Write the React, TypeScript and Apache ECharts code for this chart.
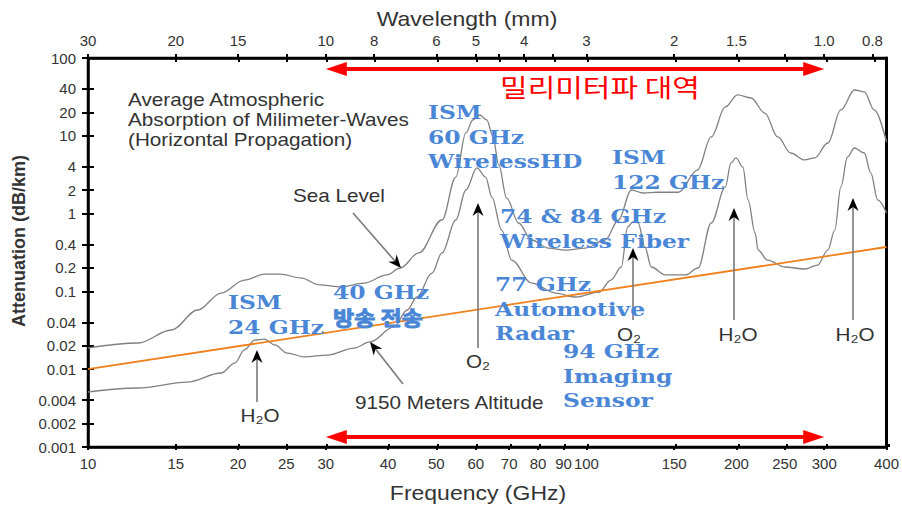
import React, { useEffect, useRef } from 'react';
import * as echarts from 'echarts';

// ---------- axis ticks ----------
const freqTicks = [10, 15, 20, 25, 30, 40, 50, 60, 70, 80, 90, 100, 150, 200, 250, 300, 400];
const wavelengthValues = [30, 20, 15, 10, 8, 6, 5, 4, 3, 2, 1.5, 1.0, 0.8];
const wavelengthLabels = ['30', '20', '15', '10', '8', '6', '5', '4', '3', '2', '1.5', '1.0', '0.8'];
const wavelengthMinorTicks = [12, 4.5, 3.5, 1.2];
const attenuationTicks = [100, 40, 20, 10, 4, 2, 1, 0.4, 0.2, 0.1, 0.04, 0.02, 0.01, 0.004, 0.002, 0.001];
const attenuationLabels = ['100', '40', '20', '10', '4', '2', '1', '0.4', '0.2', '0.1', '0.04', '0.02', '0.01', '0.004', '0.002', '0.001'];

// ---------- series: sea level ----------
const seaLevelFreq = [10, 12.6, 14.7, 16.6, 18.5, 20.6, 22.6, 24.3, 26.7, 29.2, 32.1, 35.8, 39.8, 42.3, 46.1, 51.3, 54.7, 57.3, 59.2, 61.1, 63.1, 64.9, 66.7, 69.2, 73.1, 77.6, 83.9, 90.8, 99.5, 109, 116, 123, 130, 139, 153, 167, 178, 190, 201, 214, 228, 242, 257, 274, 287, 305, 324, 345, 361, 378, 400];
const seaLevelAtt = [0.0187, 0.0217, 0.0319, 0.0577, 0.0953, 0.14, 0.167, 0.167, 0.149, 0.121, 0.114, 0.128, 0.163, 0.2, 0.312, 0.828, 2.95, 10.9, 16.0, 18.5, 16.0, 9.94, 4.22, 1.58, 0.757, 0.458, 0.361, 0.34, 0.361, 0.458, 0.828, 2.01, 1.84, 1.88, 1.88, 3.63, 9.66, 23.5, 33.5, 30.6, 19.6, 9.66, 6.01, 4.89, 5.19, 8.08, 21.5, 38.8, 36.6, 21.5, 8.32];

// ---------- series: 9150 m altitude ----------
const altitudeFreq = [10, 12.6, 15.8, 18.5, 19.7, 20.6, 21.6, 22.6, 23.7, 25.1, 27.2, 30.2, 34.2, 36.8, 41.1, 43.7, 45.7, 49.0, 51.3, 54.7, 57.3, 60.3, 62.8, 64.6, 67.6, 70.8, 77.6, 86.7, 95.1, 106, 112, 117.5, 121, 124, 127, 131, 135, 144, 158, 167.5, 178, 190, 195, 199.5, 206, 211, 218, 221, 231, 250, 274, 291, 305, 315, 324, 334, 345, 361, 372, 384, 400];
const altitudeAtt = [0.00509, 0.00573, 0.00684, 0.00893, 0.012, 0.0177, 0.0237, 0.0244, 0.0205, 0.0161, 0.0144, 0.0152, 0.0187, 0.0224, 0.0349, 0.0577, 0.0847, 0.172, 0.312, 0.828, 2.01, 3.86, 2.95, 1.63, 0.615, 0.253, 0.128, 0.0953, 0.0847, 0.0982, 0.14, 0.206, 0.673, 0.78, 0.76, 0.372, 0.206, 0.163, 0.163, 0.2, 0.757, 2.2, 4.47, 5.19, 3.97, 1.5, 0.563, 0.34, 0.253, 0.206, 0.194, 0.218, 0.34, 0.615, 2.2, 5.34, 6.97, 6.01, 3.33, 1.5, 1.02];

// ---------- series: orange trend line ----------
const trendFreq = [10, 400];
const trendAtt = [0.01, 0.372];

// ---------- millimeter-wave band (GHz) ----------
const mmWaveBand = [30, 300];

// ---------- annotation texts ----------
const titleLines = ['Average Atmospheric', 'Absorption of Milimeter-Waves', '(Horizontal Propagation)'];
const blueLabels = [
  ['ISM', '24 GHz'],
  ['40 GHz', '방송 전송'],
  ['ISM', '60 GHz', 'WirelessHD'],
  ['74 & 84 GHz', 'Wireless Fiber'],
  ['ISM', '122 GHz'],
  ['77 GHz', 'Automotive', 'Radar'],
  ['94 GHz', 'Imaging', 'Sensor'],
];

const L = (v: number) => Math.log10(v);

function nearest(v: number, vals: number[], labels: string[]) {
  let best = 0;
  let bd = Infinity;
  vals.forEach((t, i) => {
    const d = Math.abs(t - v);
    if (d < bd) {
      bd = d;
      best = i;
    }
  });
  return labels[best];
}

const hasHangul = (s: string) => /[\uac00-\ud7af]/.test(s);

export default function App() {
  const ref = useRef<HTMLDivElement>(null);
  useEffect(() => {
    const chart = echarts.init(ref.current!, null, { renderer: 'svg' });
    const xMin = 1;
    const xMax = L(400);
    const yMin = -3;
    const yMax = 2;
    const gridPos = { left: 88, right: 13, top: 58, bottom: 58 };
    const tickFont = { color: '#333', fontSize: 15, fontFamily: 'Liberation Sans, Arial, sans-serif' };

    const blueColor = '#4a86d6';
    const blueFont = 'bold 18px "DejaVu Serif", serif';
    const blueKoreanFont = 'bold 20px "Noto Sans CJK KR", sans-serif';
    const blackFont = '18px "Liberation Sans", "DejaVu Sans", sans-serif';

    const text = (t: string, x: number, y: number, font: string, fill: string, align = 'left', sx = 1.15, rot = 0, strokeW = 0) => ({
      type: 'text',
      x,
      y,
      scaleX: sx,
      rotation: rot,
      z: 100,
      silent: true,
      style: {
        text: t,
        font,
        fill,
        textAlign: align,
        align,
        textVerticalAlign: 'middle',
        verticalAlign: 'middle',
        ...(strokeW > 0 ? { stroke: fill, lineWidth: strokeW } : {}),
      },
    });

    const arrow = (x1: number, y1: number, x2: number, y2: number) => {
      const len = Math.hypot(x2 - x1, y2 - y1);
      const dx = (x2 - x1) / len;
      const dy = (y2 - y1) / len;
      const nx = -dy;
      const ny = dx;
      const hl = 13;
      const hw = 5.5;
      const notch = 9;
      return [
        { type: 'line', z: 90, silent: true, shape: { x1, y1, x2: x2 - dx * notch, y2: y2 - dy * notch }, style: { stroke: '#7a7a7a', lineWidth: 1.6 } },
        {
          type: 'polygon',
          z: 91,
          silent: true,
          shape: {
            points: [
              [x2, y2],
              [x2 - dx * hl + nx * hw, y2 - dy * hl + ny * hw],
              [x2 - dx * notch, y2 - dy * notch],
              [x2 - dx * hl - nx * hw, y2 - dy * hl - ny * hw],
            ],
          },
          style: { fill: '#000' },
        },
      ];
    };

    const bluePos = [
      [228, 303],
      [333, 293],
      [428, 113],
      [500, 217],
      [612, 158],
      [495, 285],
      [563, 352],
    ];
    const graphics: any[] = [];
    blueLabels.forEach((lines, i) => {
      lines.forEach((ln, j) => {
        const kr = hasHangul(ln);
        graphics.push(
          text(ln, bluePos[i][0], bluePos[i][1] + j * 24.5, kr ? blueKoreanFont : blueFont, blueColor, 'left', kr ? 1.15 : 1.3, 0, kr ? 0.9 : 0)
        );
      });
    });
    titleLines.forEach((ln, j) => graphics.push(text(ln, 128, 100 + j * 20, blackFont, '#333')));
    graphics.push(text('Sea Level', 293, 196, blackFont, '#333'));
    graphics.push(text('9150 Meters Altitude', 355, 403, blackFont, '#333'));
    graphics.push(text('H₂O', 260, 416, blackFont, '#333', 'center'));
    graphics.push(text('O₂', 478, 362, blackFont, '#333', 'center'));
    graphics.push(text('O₂', 629, 335, blackFont, '#333', 'center'));
    graphics.push(text('H₂O', 738, 335, blackFont, '#333', 'center'));
    graphics.push(text('H₂O', 855, 335, blackFont, '#333', 'center'));
    graphics.push(text('밀리미터파 대역', 600, 86, '25px "Noto Sans CJK KR", sans-serif', '#ff0000', 'center', 1.2));
    graphics.push(text('Wavelength (mm)', 467, 19, '20px "Liberation Sans", sans-serif', '#333', 'center'));
    graphics.push(text('Frequency (GHz)', 478, 493, '20px "Liberation Sans", sans-serif', '#333', 'center'));
    graphics.push(text('Attenuation (dB/km)', 19, 241, 'bold 18px "Liberation Sans", sans-serif', '#333', 'center', 1, Math.PI / 2));
    [
      [353, 213, 401, 268],
      [403, 384, 370, 342],
      [257, 402, 257, 350],
      [478, 348, 478, 203],
      [633, 320, 633, 248],
      [734, 320, 734, 208],
      [853, 320, 853, 198],
    ].forEach((a) => graphics.push(...arrow(a[0], a[1], a[2], a[3])));

    const freqTickLogs = freqTicks.map(L);
    const wlLabelLogs = wavelengthValues.map((w) => L(300 / w));
    const wlTickLogs = wavelengthValues.concat(wavelengthMinorTicks).map((w) => L(300 / w));
    const attLogs = attenuationTicks.map(L);

    const axisBase = { type: 'value', min: xMin, max: xMax, splitLine: { show: false } };
    const yBase = { type: 'value', min: yMin, max: yMax, splitLine: { show: false } };
    const lineStyle = { color: '#000', width: 2.5 };
    const tickStyle = { color: '#000', width: 2 };

    const option: any = {
      animation: false,
      backgroundColor: '#fff',
      grid: [
        { ...gridPos, show: true, borderColor: '#000', borderWidth: 2.5, backgroundColor: 'transparent' },
        { ...gridPos, show: false },
      ],
      xAxis: [
        {
          ...axisBase,
          gridIndex: 0,
          position: 'bottom',
          axisLine: { show: true, onZero: false, lineStyle },
          axisTick: { show: true, length: 3, customValues: freqTickLogs, lineStyle: tickStyle },
          axisLabel: {
            ...tickFont,
            margin: 9,
            customValues: freqTickLogs,
            formatter: (v: number) => nearest(v, freqTickLogs, freqTicks.map(String)),
          },
        },
        {
          ...axisBase,
          gridIndex: 0,
          position: 'top',
          axisLine: { show: true, onZero: false, lineStyle },
          axisTick: { show: true, length: 4, customValues: wlTickLogs, lineStyle: tickStyle },
          axisLabel: {
            ...tickFont,
            margin: 10,
            customValues: wlLabelLogs,
            formatter: (v: number) => nearest(v, wlLabelLogs, wavelengthLabels),
          },
        },
        {
          ...axisBase,
          gridIndex: 1,
          position: 'bottom',
          axisLine: { show: false, onZero: false },
          axisTick: { show: true, inside: true, length: 3, customValues: freqTickLogs, lineStyle: tickStyle },
          axisLabel: { show: false },
        },
        {
          ...axisBase,
          gridIndex: 1,
          position: 'top',
          axisLine: { show: false, onZero: false },
          axisTick: { show: true, inside: true, length: 4, customValues: wlTickLogs, lineStyle: tickStyle },
          axisLabel: { show: false },
        },
      ],
      yAxis: [
        {
          ...yBase,
          gridIndex: 0,
          position: 'left',
          axisLine: { show: true, onZero: false, lineStyle },
          axisTick: { show: true, length: 6, customValues: attLogs, lineStyle: tickStyle },
          axisLabel: {
            ...tickFont,
            margin: 12,
            customValues: attLogs,
            formatter: (v: number) => nearest(v, attLogs, attenuationLabels),
          },
        },
        {
          ...yBase,
          gridIndex: 0,
          position: 'right',
          axisLine: { show: true, onZero: false, lineStyle: { color: '#000', width: 3 } },
          axisTick: { show: false },
          axisLabel: { show: false },
        },
        {
          ...yBase,
          gridIndex: 1,
          position: 'left',
          axisLine: { show: false, onZero: false },
          axisTick: { show: true, inside: true, length: 6, customValues: attLogs, lineStyle: tickStyle },
          axisLabel: { show: false },
        },
      ],
      series: [
        {
          type: 'line',
          name: 'Sea Level',
          xAxisIndex: 0,
          yAxisIndex: 0,
          data: seaLevelFreq.map((f, i) => [L(f), L(seaLevelAtt[i])]),
          symbol: 'none',
          smooth: 0.35,
          smoothMonotone: 'x',
          lineStyle: { color: '#808080', width: 1.3 },
          z: 3,
        },
        {
          type: 'line',
          name: '9150 Meters Altitude',
          xAxisIndex: 0,
          yAxisIndex: 0,
          data: altitudeFreq.map((f, i) => [L(f), L(altitudeAtt[i])]),
          symbol: 'none',
          smooth: 0.35,
          smoothMonotone: 'x',
          lineStyle: { color: '#808080', width: 1.3 },
          z: 3,
        },
        {
          type: 'line',
          name: 'trend',
          xAxisIndex: 0,
          yAxisIndex: 0,
          data: trendFreq.map((f, i) => [L(f), L(trendAtt[i])]),
          symbol: 'none',
          lineStyle: { color: '#f0801e', width: 1.8 },
          z: 4,
        },
        {
          type: 'custom',
          name: 'mmWaveBand',
          xAxisIndex: 0,
          yAxisIndex: 0,
          data: [[L(mmWaveBand[0]), L(mmWaveBand[1])]],
          encode: { x: [0, 1] },
          z: 5,
          renderItem: (params: any, api: any) => {
            const x1 = api.coord([api.value(0), yMin])[0];
            const x2 = api.coord([api.value(1), yMin])[0];
            const cs = params.coordSys;
            const children: any[] = [];
            [cs.y + 11, cs.y + cs.height - 10].forEach((y: number) => {
              children.push({ type: 'line', shape: { x1: x1 + 12, y1: y, x2: x2 - 12, y2: y }, style: { stroke: '#ff0000', lineWidth: 4 } });
              children.push({ type: 'polygon', shape: { points: [[x1, y], [x1 + 21, y - 7], [x1 + 21, y + 7]] }, style: { fill: '#ff0000' } });
              children.push({ type: 'polygon', shape: { points: [[x2, y], [x2 - 21, y - 7], [x2 - 21, y + 7]] }, style: { fill: '#ff0000' } });
            });
            return { type: 'group', children };
          },
        },
      ],
      graphic: graphics,
    };
    chart.setOption(option);
    return () => chart.dispose();
  }, []);
  return <div ref={ref} style={{ position: 'absolute', left: 0, top: 0, width: 902, height: 505 }} />;
}
